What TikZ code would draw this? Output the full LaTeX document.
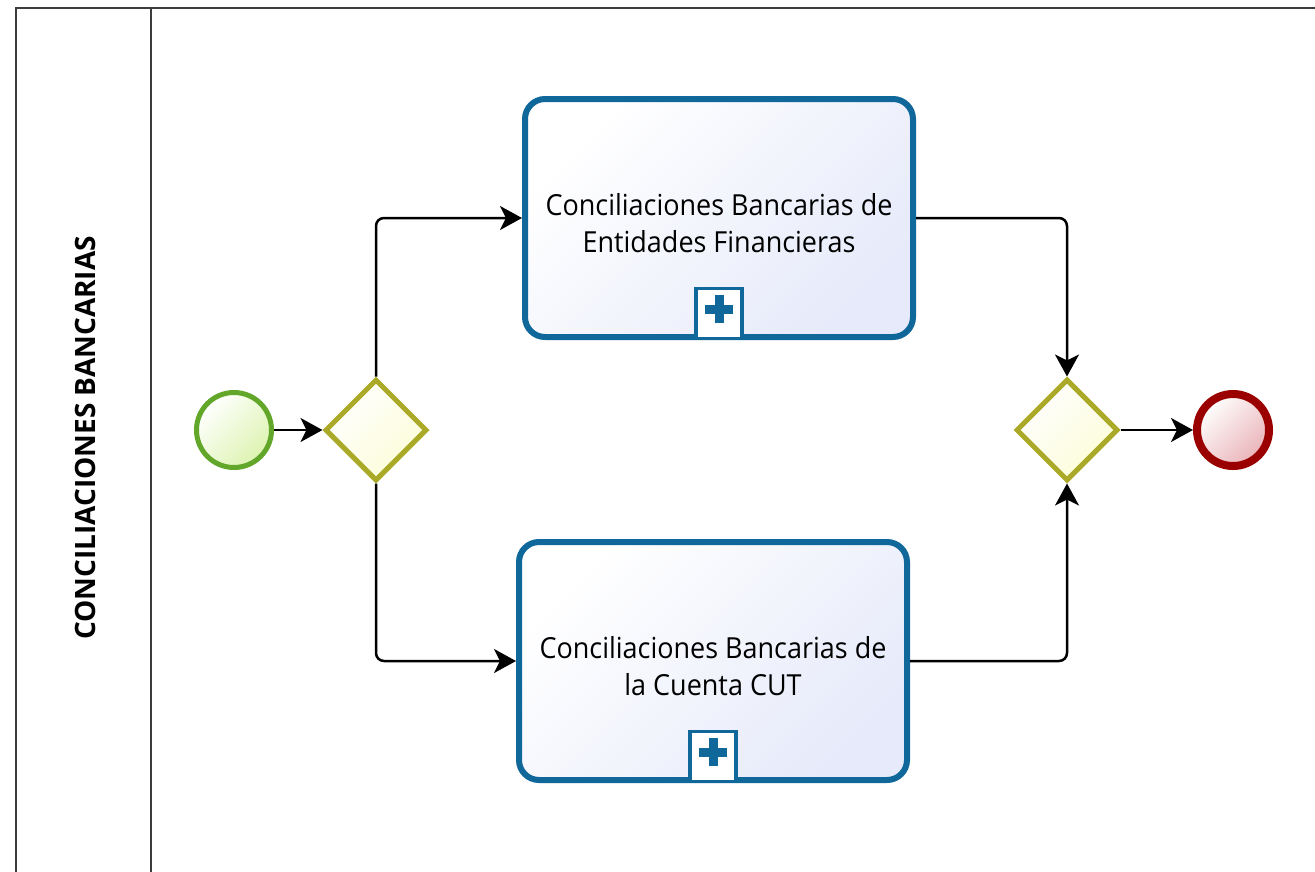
\documentclass[tikz,border=0pt]{standalone}
\usepackage{fontspec}
\setmainfont{Open Sans}
\newfontfamily\taskfont[FakeStretch=0.93]{Open Sans}
\usepackage{tikz}
\usetikzlibrary{shapes.geometric,arrows.meta,positioning}
\usepackage{xcolor}

\definecolor{taskblue}{HTML}{10689A}
\definecolor{taskfill}{HTML}{E6EAFA}
\definecolor{gwline}{HTML}{AAAA28}
\definecolor{gwfill}{HTML}{FCFCD8}
\definecolor{startline}{HTML}{62A72A}
\definecolor{startfill}{HTML}{DDF3B0}
\definecolor{endline}{HTML}{9B0000}
\definecolor{endfill}{HTML}{E9B2B7}
\definecolor{laneline}{HTML}{3C3C3C}

\tikzset{
    lane/.style={draw=laneline, line width=2.5pt},
    startev/.style={circle, draw=startline, line width=5pt, inner sep=0pt,
        minimum size=75pt, top color=white, bottom color=startfill, shading angle=45},
    endev/.style={circle, draw=endline, line width=8pt, inner sep=0pt,
        minimum size=72pt, top color=white, bottom color=endfill, shading angle=45},
    gateway/.style={diamond, draw=gwline, line width=5pt, inner sep=0pt, aspect=1,
        minimum width=102pt, minimum height=102pt, top color=white, bottom color=gwfill, shading angle=45},
    subproc/.style={rectangle, rounded corners=20pt, draw=taskblue, line width=6pt,
        minimum width=388pt, minimum height=238pt, top color=white, bottom color=taskfill,
        shading angle=45, align=center, font=\taskfont\fontsize{29}{37}\selectfont},
    plusbox/.style={rectangle, draw=taskblue, line width=3.5pt, fill=white,
        minimum width=46pt, minimum height=50pt, anchor=south},
    flow/.style={line width=2.5pt, rounded corners=8pt, -{Stealth[length=22pt,width=24pt,inset=6pt]}}
}

\begin{document}
\begin{tikzpicture}[x=1pt, y=-1pt]
    \useasboundingbox (0, 0) rectangle (1315, 871);
    \clip (0, 0) rectangle (1315, 871);

    % pool and lane
    \draw[lane] (16, 885) -- (16, 8) -- (1330, 8);
    \draw[lane] (151, 8) -- (151, 885);
    \node[rotate=90, font=\bfseries\fontsize{28}{30}\selectfont] (lanelabel) at (85, 438) {CONCILIACIONES BANCARIAS};

    % events and gateways
    \node[startev] (inicio) at (234, 430) {};
    \node[gateway] (split) at (376, 430) {};
    \node[gateway] (join) at (1067, 430) {};
    \node[endev] (fin) at (1233, 430) {};

    % sub-processes
    \node[subproc] (entidades) at (719, 218) {\\[-0.15em]Conciliaciones Bancarias de\\Entidades Financieras};
    \node[subproc] (cut) at (713, 661) {\\[-0.15em]Conciliaciones Bancarias de\\la Cuenta CUT};

    \node[plusbox] (entidadesplus) at (entidades.south) {};
    \node[plusbox] (cutplus) at (cut.south) {};
    \foreach \p in {entidadesplus, cutplus} {
        \draw[taskblue, line width=9pt] ([xshift=-14pt, yshift=4pt]\p.center) -- ([xshift=14pt, yshift=4pt]\p.center);
        \draw[taskblue, line width=9pt] ([yshift=-10pt]\p.center) -- ([yshift=18pt]\p.center);
    }

    % sequence flows
    \draw[flow] (inicio) -- (split);
    \draw[flow] (split.north) |- (entidades.west);
    \draw[flow] (split.south) |- (cut.west);
    \draw[flow] (entidades.east) -| (join.north);
    \draw[flow] (cut.east) -| (join.south);
    \draw[flow] (join) -- (fin);
\end{tikzpicture}
\end{document}
